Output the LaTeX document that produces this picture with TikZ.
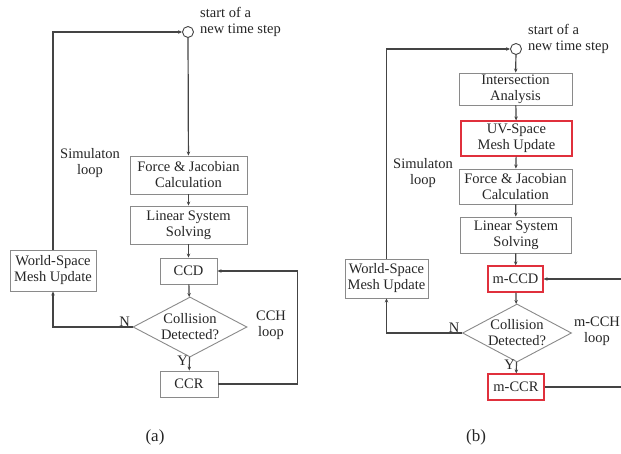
\documentclass[tikz,border=0pt]{standalone}
\usepackage{fontspec}
\setmainfont{Liberation Serif}
\usetikzlibrary{shapes.geometric,arrows.meta,positioning}
\definecolor{boxgray}{HTML}{8A8A8A}
\definecolor{linegray}{HTML}{444444}
\definecolor{txtgray}{HTML}{262626}
\definecolor{redbox}{HTML}{E0303C}
\begin{document}
\begin{tikzpicture}[x=1pt,y=-1pt,
  every node/.style={font=\fontsize{14.5}{16}\selectfont, text=txtgray},
  procbox/.style={draw=boxgray, line width=0.9pt, rectangle, inner sep=0pt, align=center},
  redproc/.style={procbox, draw=redbox, line width=1.1pt},
  decision/.style={draw=boxgray, line width=0.9pt, diamond, aspect=1.9, inner sep=0pt, align=center},
  startc/.style={draw=linegray, line width=0.9pt, circle, minimum size=11pt, inner sep=0pt, fill=white},
  conn/.style={draw=linegray, line width=1.2pt, -{Stealth[length=4pt,width=3.5pt]}},
  plain/.style={align=center, inner sep=0pt},
  lbl/.style={align=left, inner sep=0pt},
  caption/.style={plain, font=\fontsize{17}{19}\selectfont}
]
\useasboundingbox (0,0) rectangle (621,454);
\clip (0,0) rectangle (621,454);
\fill[white] (0,0) rectangle (621,454);

% ---------------- panel (a) ----------------
\node[startc] (c1) at (188,32) {};
\node[lbl, anchor=west] (st1) at (200,22) {start of a\\new time step};
\node[procbox, minimum width=117pt, minimum height=38pt] (fj1) at (188.5,175) {Force \& Jacobian\\Calculation};
\node[procbox, minimum width=117pt, minimum height=38pt] (ls1) at (188.5,225) {Linear System\\Solving};
\node[procbox, minimum width=57pt, minimum height=26pt] (ccd1) at (188.5,271) {CCD};
\node[decision, minimum width=114pt, minimum height=60pt] (dia1) at (190,327) {Collision\\Detected?};
\node[procbox, minimum width=58pt, minimum height=26pt] (ccr1) at (189,384) {CCR};
\node[procbox, minimum width=86pt, minimum height=41pt] (ws1) at (53,270.5) {World-Space\\Mesh Update};
\node[plain] (sim1) at (90,163) {Simulaton\\loop};
\node[plain] (cch1) at (271,325) {CCH\\loop};
\node[caption] (capa) at (155,437) {(a)};

\draw[conn] (c1) -- (fj1);
\draw[conn] (fj1) -- (ls1);
\draw[conn] (ls1) -- (ccd1);
\draw[conn] (ccd1) -- (dia1);
\draw[conn] (dia1) -- node[pos=0.25, left=1pt, inner sep=0pt] {Y} (ccr1);
\draw[conn] (dia1.west) node[above left=0pt and 2pt, inner sep=0pt] {N} -| (ws1.south);
\draw[conn] (ws1.north) |- (c1.west);
\draw[conn] (ccr1.east) -- ++(79,0) coordinate (r1) |- (ccd1.east);

% ---------------- panel (b) ----------------
\node[startc] (c2) at (516,49) {};
\node[lbl, anchor=west] (st2) at (528,39) {start of a\\new time step};
\node[procbox, minimum width=113pt, minimum height=32pt] (ia2) at (515.5,89) {Intersection\\Analysis};
\node[redproc, minimum width=111pt, minimum height=35pt] (uv2) at (516.5,138.5) {UV-Space\\Mesh Update};
\node[procbox, minimum width=113pt, minimum height=35pt] (fj2) at (515.5,186.5) {Force \& Jacobian\\Calculation};
\node[procbox, minimum width=111pt, minimum height=36pt] (ls2) at (516,235) {Linear System\\Solving};
\node[redproc, minimum width=55pt, minimum height=26pt] (ccd2) at (515.5,279) {m-CCD};
\node[decision, minimum width=109pt, minimum height=58pt] (dia2) at (517,333) {Collision\\Detected?};
\node[redproc, minimum width=56pt, minimum height=26pt] (ccr2) at (516,387) {m-CCR};
\node[procbox, minimum width=83pt, minimum height=39pt] (ws2) at (386.5,278.5) {World-Space\\Mesh Update};
\node[plain] (sim2) at (423,173) {Simulaton\\loop};
\node[plain] (cch2) at (597,331) {m-CCH\\loop};
\node[caption] (capb) at (476,437) {(b)};

\draw[conn] (c2) -- (ia2);
\draw[conn] (ia2) -- (uv2);
\draw[conn] (uv2) -- (fj2);
\draw[conn] (fj2) -- (ls2);
\draw[conn] (ls2) -- (ccd2);
\draw[conn] (ccd2) -- (dia2);
\draw[conn] (dia2) -- node[pos=0.25, left=1pt, inner sep=0pt] {Y} (ccr2);
\draw[conn] (dia2.west) node[above left=0pt and 2pt, inner sep=0pt] {N} -| (ws2.south);
\draw[conn] (ws2.north) |- (c2.west);
\draw[conn] (ccr2.east) -- ++(85,0) coordinate (r2) |- (ccd2.east);
\end{tikzpicture}
\end{document}
